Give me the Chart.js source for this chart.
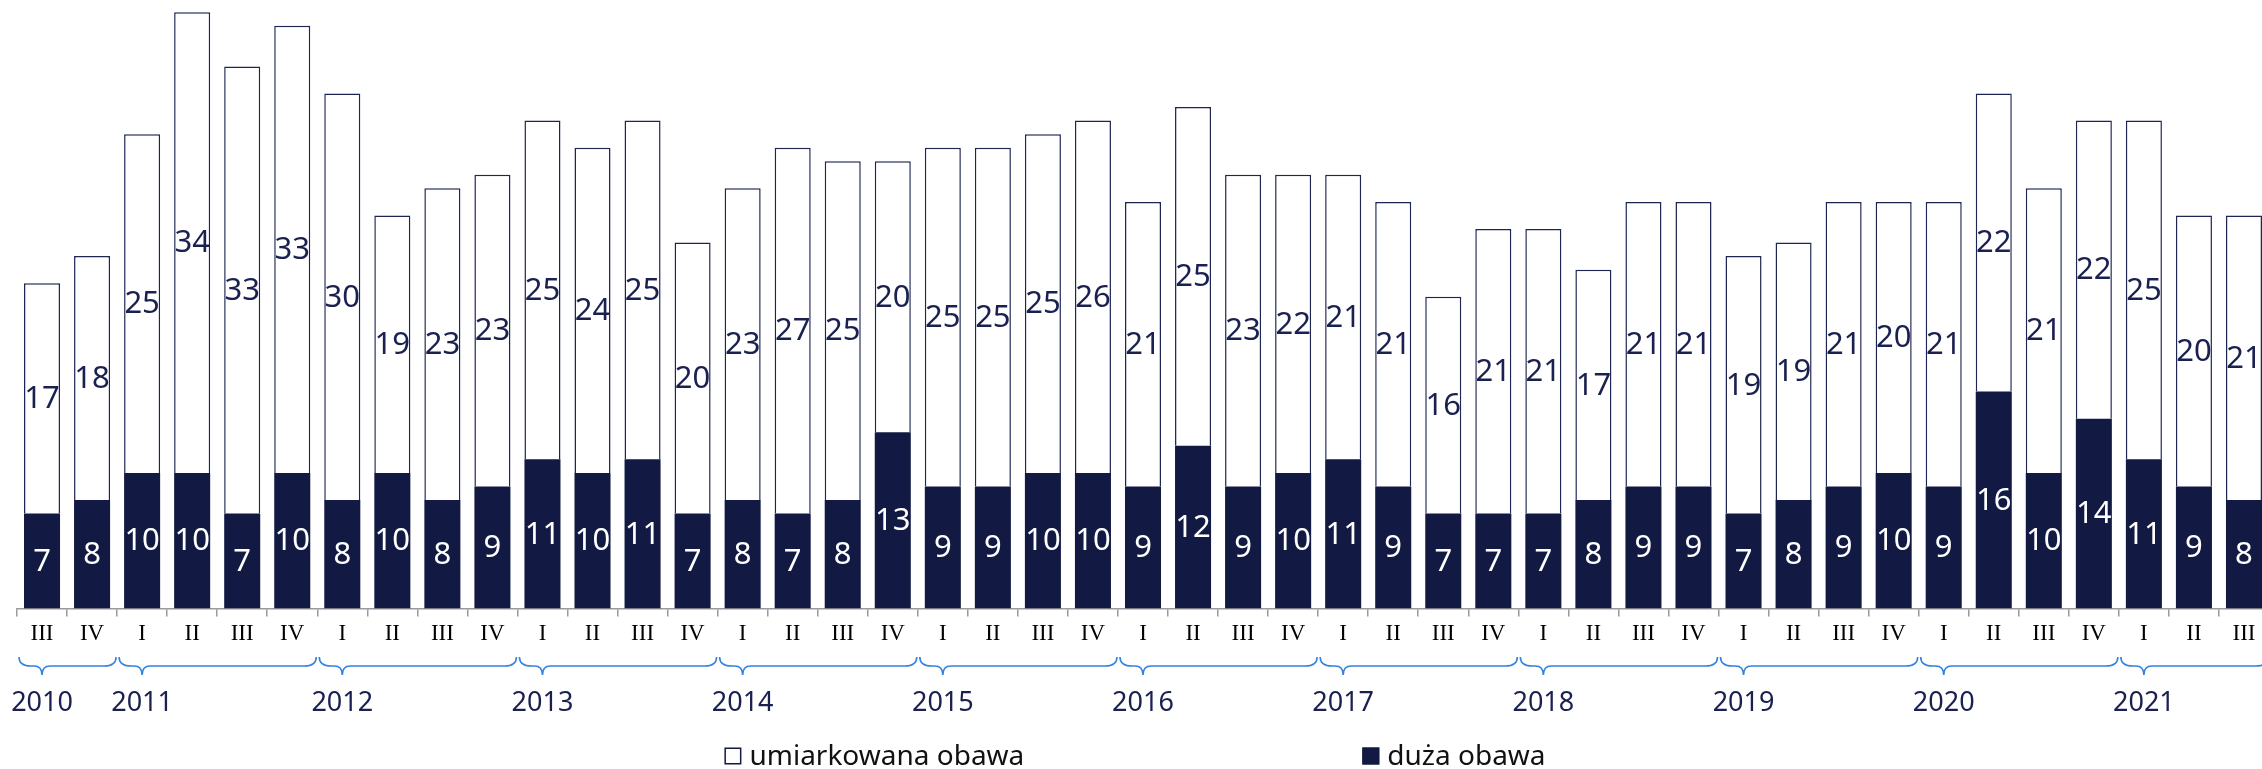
<!DOCTYPE html>
<html>
<head>
<meta charset="utf-8">
<script src="https://cdn.jsdelivr.net/npm/chart.js@4/dist/chart.umd.min.js"></script>
<style>
    html, body { margin: 0; padding: 0; background: #fff; overflow: hidden; }
    #wrap { width: 2280px; height: 769px; }
</style>
</head>
<body>
<div id="wrap"><canvas id="chart" width="2280" height="769"></canvas></div>
<script>
// quarters 2010 III .. 2021 III
const quarters = [
    "III", "IV",
    "I", "II", "III", "IV",
    "I", "II", "III", "IV",
    "I", "II", "III", "IV",
    "I", "II", "III", "IV",
    "I", "II", "III", "IV",
    "I", "II", "III", "IV",
    "I", "II", "III", "IV",
    "I", "II", "III", "IV",
    "I", "II", "III", "IV",
    "I", "II", "III", "IV",
    "I", "II", "III"
];
const years = ["2010", "2011", "2012", "2013", "2014", "2015", "2016", "2017", "2018", "2019", "2020", "2021"];

const strongConcern = [7, 8, 10, 10, 7, 10, 8, 10, 8, 9, 11, 10, 11, 7, 8, 7, 8, 13, 9, 9, 10, 10, 9, 12, 9, 10, 11, 9, 7, 7, 7, 8, 9, 9, 7, 8, 9, 10, 9, 16, 10, 14, 11, 9, 8];
const moderateConcern = [17, 18, 25, 34, 33, 33, 30, 19, 23, 23, 25, 24, 25, 20, 23, 27, 25, 20, 25, 25, 25, 26, 21, 25, 23, 22, 21, 21, 16, 21, 21, 17, 21, 21, 19, 19, 21, 20, 21, 22, 21, 22, 25, 20, 21];

const NAVY = "#121a44";
const TEXT_NAVY = "#1a2050";
const BRACE_BLUE = "#3583e0";
const SANS = "'Noto Sans', 'Open Sans', sans-serif";

// value labels inside the segments
const valueLabels = {
    id: "valueLabels",
    afterDatasetsDraw(chart) {
        const ctx = chart.ctx;
        ctx.save();
        ctx.font = "31px " + SANS;
        ctx.textAlign = "center";
        ctx.textBaseline = "middle";
        chart.data.datasets.forEach((ds, i) => {
            const meta = chart.getDatasetMeta(i);
            meta.data.forEach((bar, j) => {
                const p = bar.getProps(["x", "y", "base"], true);
                ctx.fillStyle = ds.labelColor;
                ctx.fillText(String(ds.data[j]), p.x, (p.y + p.base) / 2 + 1);
            });
        });
        ctx.restore();
    }
};

// year braces, year labels and legend under the axis
const yearAxis = {
    id: "yearAxis",
    afterDraw(chart) {
        const ctx = chart.ctx;
        const x = chart.scales.x;
        const half = (x.getPixelForValue(1) - x.getPixelForValue(0)) / 2;

        // group categories by year: a new year starts at quarter I
        const groups = [];
        quarters.forEach((q, i) => {
            if (i === 0 || q === "I") groups.push({start: i, end: i});
            else groups[groups.length - 1].end = i;
        });

        const top = 657, mid = 666, tip = 675;
        ctx.save();
        ctx.strokeStyle = BRACE_BLUE;
        ctx.lineWidth = 1.6;
        groups.forEach((g, k) => {
            const L = x.getPixelForValue(g.start) - half + 2;
            const R = x.getPixelForValue(g.end) + half - 1;
            const T = x.getPixelForValue(g.start);
            ctx.beginPath();
            ctx.moveTo(L, top);
            ctx.quadraticCurveTo(L, mid, L + 12, mid);
            ctx.lineTo(T - 8, mid);
            ctx.quadraticCurveTo(T, mid, T, tip);
            ctx.quadraticCurveTo(T, mid, T + 8, mid);
            ctx.lineTo(R - 12, mid);
            ctx.quadraticCurveTo(R, mid, R, top);
            ctx.stroke();

            ctx.fillStyle = TEXT_NAVY;
            ctx.font = "27px " + SANS;
            ctx.textAlign = "center";
            ctx.textBaseline = "middle";
            ctx.fillText(years[k], T, 703);
        });

        // legend: moderate first, strong second
        const items = [chart.data.datasets[1], chart.data.datasets[0]];
        ctx.font = "28px " + SANS;
        ctx.textAlign = "left";
        ctx.textBaseline = "middle";
        const box = 17, gapText = 8, gapItems = 338;
        const widths = items.map(d => box + gapText + ctx.measureText(d.label).width);
        let cx = 1135 - (widths[0] + widths[1] + gapItems) / 2;
        const cy = 756;
        items.forEach((d, i) => {
            ctx.fillStyle = d.backgroundColor;
            ctx.fillRect(cx, cy - box / 2, box, box);
            ctx.strokeStyle = NAVY;
            ctx.lineWidth = 1.5;
            ctx.strokeRect(cx + 0.75, cy - box / 2 + 0.75, box - 1.5, box - 1.5);
            ctx.fillStyle = "#111";
            ctx.fillText(d.label, cx + box + gapText, cy + 1);
            cx += widths[i] + gapItems;
        });
        ctx.restore();
    }
};

new Chart(document.getElementById("chart"), {
    type: "bar",
    data: {
        labels: quarters,
        datasets: [{
            label: "duża obawa",
            data: strongConcern,
            backgroundColor: NAVY,
            borderColor: NAVY,
            borderWidth: 0,
            labelColor: "#ffffff",
            barPercentage: 0.72,
            categoryPercentage: 1
        }, {
            label: "umiarkowana obawa",
            data: moderateConcern,
            backgroundColor: "#ffffff",
            borderColor: "#1d2552",
            borderWidth: 1.5,
            labelColor: TEXT_NAVY,
            barPercentage: 0.72,
            categoryPercentage: 1
        }]
    },
    options: {
        responsive: false,
        animation: false,
        devicePixelRatio: 1,
        layout: {padding: {left: 17, right: 11, top: 0, bottom: 117}},
        scales: {
            x: {
                stacked: true,
                offset: true,
                grid: {
                    display: true,
                    offset: true,
                    drawOnChartArea: false,
                    drawTicks: true,
                    tickLength: 8,
                    color: "#9a9a9a",
                    lineWidth: 1.5
                },
                border: {display: true, color: "#9a9a9a", width: 1.5},
                ticks: {
                    color: "#000",
                    font: {family: "'Liberation Serif', serif", size: 23},
                    padding: 4,
                    maxRotation: 0,
                    autoSkip: false
                }
            },
            y: {
                stacked: true,
                display: false,
                min: 0,
                max: 44.9
            }
        },
        plugins: {
            legend: {display: false},
            tooltip: {enabled: false}
        }
    },
    plugins: [valueLabels, yearAxis]
});
</script>
</body>
</html>
